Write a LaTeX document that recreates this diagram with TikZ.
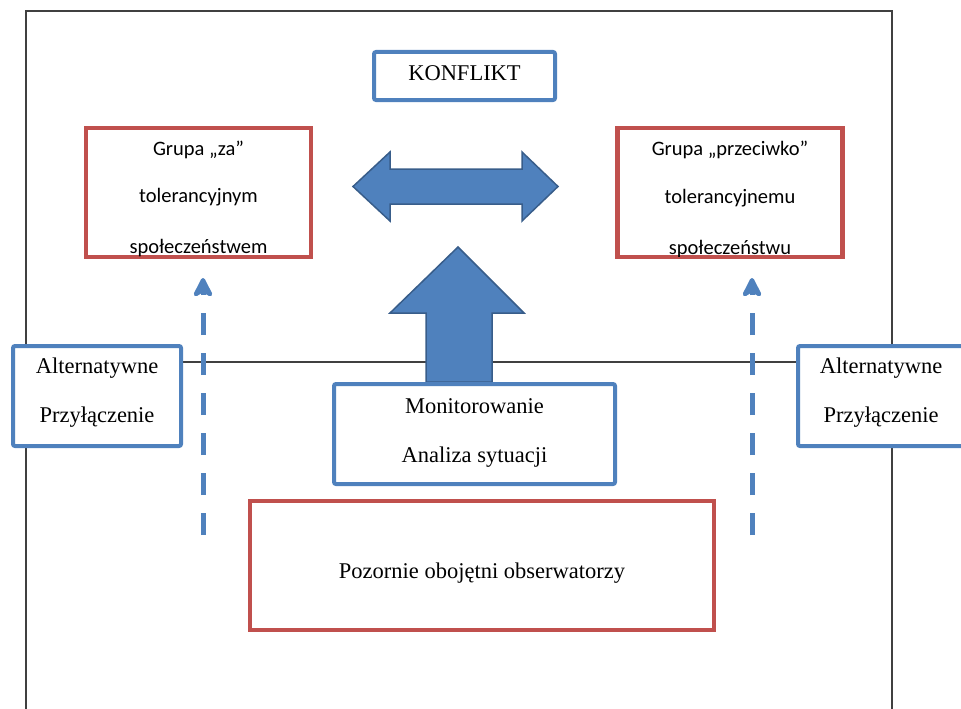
\documentclass[tikz,border=0pt]{standalone}
\usepackage{fontspec}
\setmainfont{Liberation Serif}
\newfontfamily\calib{Carlito}
\usetikzlibrary{arrows.meta}
\definecolor{boxblue}{HTML}{4F81BD}
\definecolor{boxred}{HTML}{C0504D}
\definecolor{arrowedge}{HTML}{385D8A}
\definecolor{framegray}{HTML}{404040}
\tikzset{
  bluebox/.style={draw=boxblue, line width=4pt, fill=white, rectangle, inner sep=0pt, rounded corners=2pt},
  redbox/.style={draw=boxred, line width=4.5pt, fill=white, rectangle, inner sep=0pt},
  serif/.style={font=\fontsize{22.5}{27}\selectfont, anchor=base, inner sep=0pt},
  calibri/.style={font=\calib\fontsize{20.5}{24}\selectfont, anchor=base, inner sep=0pt},
  fatarrow/.style={fill=boxblue, draw=arrowedge, line width=1.5pt, line join=miter},
  dasharrow/.style={draw=boxblue, line width=5pt, dash pattern=on 22pt off 18pt,
    -{Stealth[length=24pt,width=24pt,inset=7pt,round]}},
  thinline/.style={draw=framegray, line width=1.2pt}
}
\begin{document}
\begin{tikzpicture}[x=1pt,y=-1pt]
\useasboundingbox (0,0) rectangle (961,709);
\clip (0,0) rectangle (961,709);
% outer frame
\draw[thinline] (26,730) -- (26,11) -- (892,11) -- (892,730);
% horizontal line
\coordinate (hl) at (183,362);
\coordinate (hr) at (796,362);
\draw[thinline] (hl) -- (hr);
% up arrow
\draw[fatarrow] (458,247) -- (524,313) -- (492,313) -- (492,382) -- (426,382) -- (426,313) -- (390,313) -- cycle;
% double arrow
\draw[fatarrow] (353,186.5) -- (390,152) -- (390,169) -- (522,169) -- (522,152) -- (558,186.5) -- (522,221) -- (522,204) -- (390,204) -- (390,221) -- cycle;
% KONFLIKT
\node[bluebox, minimum width=181pt, minimum height=48pt] (konf) at (464.5,76) {};
\node[serif] (konft) at (464.5,81) {KONFLIKT};
% left red box
\node[redbox, minimum width=225pt, minimum height=129pt] (za) at (198.5,192.5) {};
\begin{scope}
\clip (86.5,128.5) rectangle (310.5,256.5);
\node[calibri] (za1) at (198.5,155) {Grupa „za”};
\node[calibri] (za2) at (198.5,202) {tolerancyjnym};
\node[calibri] (za3) at (198.5,253) {społeczeństwem};
\end{scope}
% right red box
\node[redbox, minimum width=225pt, minimum height=129pt] (przeciw) at (730,192.5) {};
\begin{scope}
\clip (618,128.5) rectangle (842,256.5);
\node[calibri] (pr1) at (730,155) {Grupa „przeciwko”};
\node[calibri] (pr2) at (730,203) {tolerancyjnemu};
\node[calibri] (pr3) at (730,254) {społeczeństwu};
\end{scope}
% alternatywne left
\node[bluebox, minimum width=168pt, minimum height=100pt] (altl) at (97,396) {};
\node[serif] (altl1) at (97,373) {Alternatywne};
\node[serif] (altl2) at (97,422) {Przyłączenie};
% alternatywne right
\node[bluebox, minimum width=168pt, minimum height=100pt] (altr) at (882,396) {};
\node[serif] (altr1) at (881,373) {Alternatywne};
\node[serif] (altr2) at (881,422) {Przyłączenie};
% monitorowanie
\node[bluebox, minimum width=281pt, minimum height=100pt] (mon) at (474.5,434) {};
\node[serif] (mon1) at (474.5,413) {Monitorowanie};
\node[serif] (mon2) at (474.5,462) {Analiza sytuacji};
% pozornie
\node[redbox, minimum width=464pt, minimum height=129pt] (poz) at (482,565.5) {};
\node[serif] (poz1) at (482,578) {Pozornie obojętni obserwatorzy};
% dashed arrows
\coordinate (dl0) at (203,535);
\coordinate (dl1) at (203,278);
\coordinate (dr0) at (752,535);
\coordinate (dr1) at (752,278);
\draw[dasharrow] (dl0) -- (dl1);
\draw[dasharrow] (dr0) -- (dr1);
\end{tikzpicture}
\end{document}
